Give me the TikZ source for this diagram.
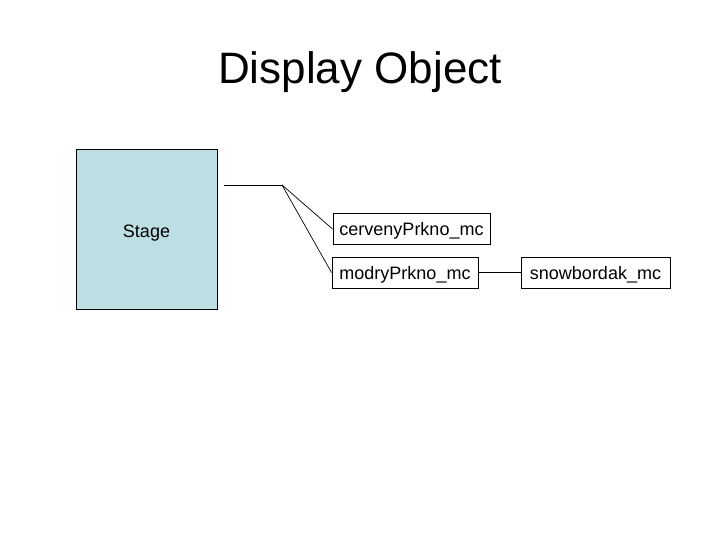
\documentclass[tikz,border=0pt]{standalone}
\usepackage{fontspec}
\setmainfont{Liberation Sans}
\definecolor{stagefill}{HTML}{BDDFE3}
\newcommand{\lowertxt}[2]{\raisebox{-#1}[\height][\depth]{#2}}
\tikzset{
  titletext/.style={font=\fontsize{44}{50}\selectfont, anchor=base, inner sep=0pt},
  stagebox/.style={draw=black, line width=1pt, fill=stagefill, inner sep=0pt, font=\fontsize{18}{21}\selectfont},
  objbox/.style={draw=black, line width=1pt, fill=white, inner sep=0pt, font=\fontsize{18}{21}\selectfont},
  link/.style={draw=black, line width=0.7pt}
}
\begin{document}
\begin{tikzpicture}[x=1pt,y=-1pt]
\useasboundingbox[fill=white] (0,0) rectangle (720,540);
\node[titletext] (title) at (360,84) {Display Object};
\node[stagebox, minimum width=141pt, minimum height=159pt] (stage) at (146.5,229.5) {\lowertxt{3.5pt}{Stage}};
\node[objbox, minimum width=157pt, minimum height=31pt] (cerv) at (411.5,229) {\lowertxt{2pt}{cervenyPrkno\_mc}};
\node[objbox, minimum width=146pt, minimum height=31pt] (modry) at (405,272.5) {\lowertxt{2pt}{modryPrkno\_mc}};
\node[objbox, minimum width=149pt, minimum height=31pt] (snow) at (595.5,272.5) {\lowertxt{2pt}{snowbordak\_mc}};
\coordinate (a) at (224,185);
\coordinate (b) at (282,185);
\draw[link] (a) -- (b);
\draw[link] (b) -- (cerv.west);
\draw[link] (b) -- (modry.west);
\draw[link] (modry) -- (snow);
\end{tikzpicture}
\end{document}
